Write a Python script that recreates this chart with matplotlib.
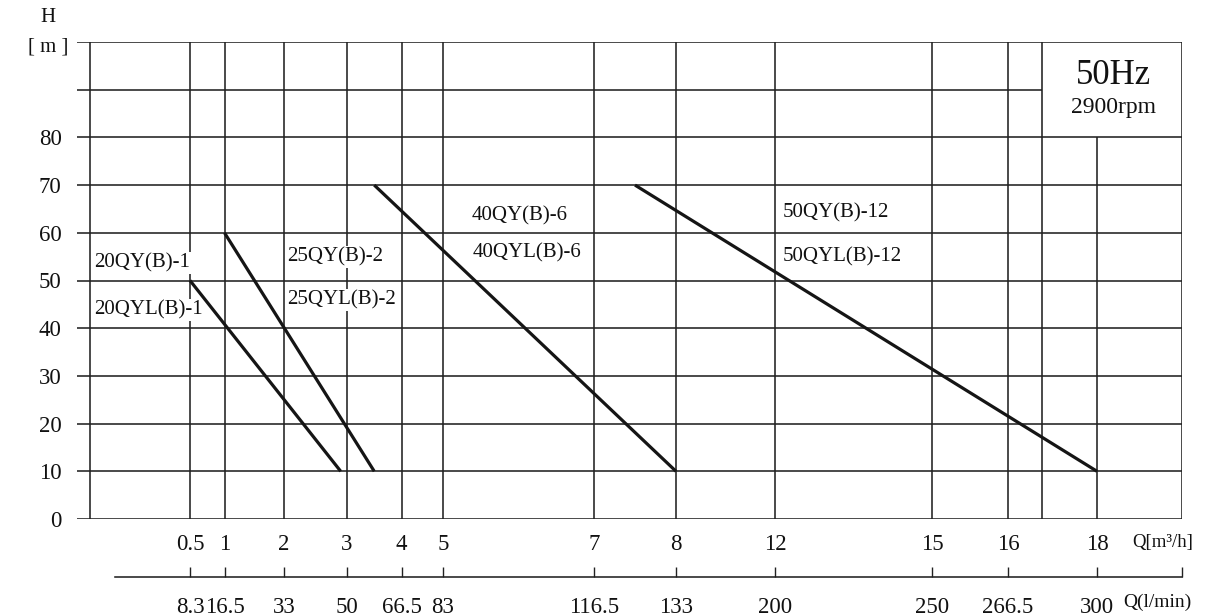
import numpy as np
import matplotlib
matplotlib.use("Agg")
import matplotlib.pyplot as plt
from matplotlib.ticker import NullLocator

plt.rcParams['font.family'] = ['Liberation Serif', 'DejaVu Serif']

# ---------------- data ----------------
q_m3h = [0.5, 1, 2, 3, 4, 5, 7, 8, 12, 15, 16, 18]
q_m3h_labels = ["0.5", "1", "2", "3", "4", "5", "7", "8", "12", "15", "16", "18"]
q_lmin_labels = ["8.3", "16.5", "33", "50", "66.5", "83", "116.5", "133",
                 "200", "250", "266.5", "300"]
h_ticks = [0, 10, 20, 30, 40, 50, 60, 70, 80]

s20_q = [0.5, 2.9]
s20_h = [50, 10]
s25_q = [1, 3.5]
s25_h = [60, 10]
s40_q = [3.5, 8]
s40_h = [70, 10]
s50_q = [7.5, 18]
s50_h = [70, 10]

# ---------------- layout (non-uniform x scale) ----------------
W, H = 1229, 616
TICK_POS = np.array([190, 224.5, 284, 347, 401.5, 443, 594, 676, 775, 932, 1008, 1097], float)
QK = np.array(q_m3h, float)
X_LEFT, X_AXIS, X_SPLIT, X_RIGHT, X_SEC0 = 77, 90, 1042, 1182, 115
Y_TOP, Y_BOT, Y_SEC = 42, 519, 577

sl_lo = (TICK_POS[1] - TICK_POS[0]) / (QK[1] - QK[0])
sl_hi = (TICK_POS[-1] - TICK_POS[-2]) / (QK[-1] - QK[-2])


def fwd(q):
    q = np.asarray(q, float)
    shp = q.shape
    q = np.atleast_1d(q).astype(float)
    out = np.interp(q, QK, TICK_POS)
    lo = q < QK[0]
    hi = q > QK[-1]
    out[lo] = TICK_POS[0] + (q[lo] - QK[0]) * sl_lo
    out[hi] = TICK_POS[-1] + (q[hi] - QK[-1]) * sl_hi
    return out.reshape(shp)


def inv(p):
    p = np.asarray(p, float)
    shp = p.shape
    p = np.atleast_1d(p).astype(float)
    out = np.interp(p, TICK_POS, QK)
    lo = p < TICK_POS[0]
    hi = p > TICK_POS[-1]
    out[lo] = QK[0] + (p[lo] - TICK_POS[0]) / sl_lo
    out[hi] = QK[-1] + (p[hi] - TICK_POS[-1]) / sl_hi
    return out.reshape(shp)


def q_of(px):
    return float(inv(px))


fig = plt.figure(figsize=(W / 100, H / 100), dpi=100)
ax = fig.add_axes([X_LEFT / W, 1 - Y_BOT / H, (X_RIGHT - X_LEFT) / W, (Y_BOT - Y_TOP) / H])
ax.set_xscale('function', functions=(fwd, inv))
ax.set_xlim(q_of(X_LEFT), q_of(X_RIGHT))
ax.set_ylim(0, 100)
for s in ax.spines.values():
    s.set_visible(False)

GC = '#222222'
GLW = 1.15
TC = '#111111'
xl, xr = q_of(X_LEFT), q_of(X_RIGHT)
# horizontal grid
for y in h_ticks + [100]:
    ax.hlines(y, xl, xr, color=GC, lw=GLW, zorder=1)
ax.hlines(90, xl, q_of(X_SPLIT), color=GC, lw=GLW, zorder=1)
# vertical grid
for q in q_m3h:
    top = 80 if q == q_m3h[-1] else 100
    ax.vlines(q, 0, top, color=GC, lw=GLW, zorder=1)
for px in (X_AXIS, X_SPLIT, X_RIGHT):
    ax.vlines(q_of(px), 0, 100, color=GC, lw=GLW, zorder=1)

# curves
CC = '#151515'
for qq, hh in ((s20_q, s20_h), (s25_q, s25_h), (s40_q, s40_h), (s50_q, s50_h)):
    ax.plot(qq, hh, color=CC, lw=2.3, solid_capstyle='butt', zorder=3)

# curve labels
bb = dict(facecolor='white', edgecolor='none', pad=1.0)
labels = [
    ("20QY(B)-1", 94, 263), ("20QYL(B)-1", 94, 310),
    ("25QY(B)-2", 287, 257), ("25QYL(B)-2", 287, 300),
    ("40QY(B)-6", 472, 216), ("40QYL(B)-6", 473, 253),
    ("50QY(B)-12", 783, 213), ("50QYL(B)-12", 783, 257),
]
for t, px, py in labels:
    ax.text(q_of(px), (Y_BOT - py) / (Y_BOT - Y_TOP) * 100, t, fontsize=15,
            ha='left', va='center', bbox=bb, zorder=2, color=TC)

# ticks main
ax.set_yticks(h_ticks)
ax.set_yticklabels([str(v) for v in h_ticks])
ax.set_xticks(q_m3h)
ax.set_xticklabels(q_m3h_labels)
ax.xaxis.set_minor_locator(NullLocator())
ax.tick_params(axis='both', length=0, labelsize=16.5, colors=TC)
ax.tick_params(axis='y', pad=11)
ax.tick_params(axis='x', pad=10.5)

# secondary axis l/min (separate axes sharing the same non-uniform scale)
ax2 = fig.add_axes([X_LEFT / W, 1 - Y_SEC / H, (X_RIGHT - X_LEFT) / W, 20 / H])
ax2.set_xscale('function', functions=(fwd, inv))
ax2.set_xlim(q_of(X_LEFT), q_of(X_RIGHT))
ax2.patch.set_visible(False)
for k in ('top', 'left', 'right'):
    ax2.spines[k].set_visible(False)
ax2.spines['bottom'].set_bounds(q_of(X_SEC0), q_of(X_RIGHT))
ax2.spines['bottom'].set_linewidth(1.15)
ax2.spines['bottom'].set_color(GC)
ax2.set_yticks([])
ax2.set_xticks(list(q_m3h) + [q_of(X_RIGHT)])
ax2.set_xticklabels(q_lmin_labels + [""])
ax2.xaxis.set_minor_locator(NullLocator())
ax2.tick_params(axis='x', direction='in', length=7.5, width=1.0, color=GC,
                labelsize=16.5, pad=14.5, labelcolor=TC)


def ftxt(px, py, s, **kw):
    fig.text(px / W, 1 - py / H, s, **kw)


ftxt(48, 18, "H", fontsize=15, ha='center', va='center', color=TC)
ftxt(48, 47, "[ m ]", fontsize=15, ha='center', va='center', color=TC)
ftxt(1113, 76, "50Hz", fontsize=25, ha='center', va='center', color=TC)
ftxt(1113, 107, "2900rpm", fontsize=17, ha='center', va='center', color=TC)
ftxt(1132, 542, "Q[m³/h]", fontsize=13.5, ha='left', va='center', color=TC)
ftxt(1123, 602, "Q(l/min)", fontsize=14, ha='left', va='center', color=TC)

fig.savefig("out.png", dpi=100, facecolor='white')
